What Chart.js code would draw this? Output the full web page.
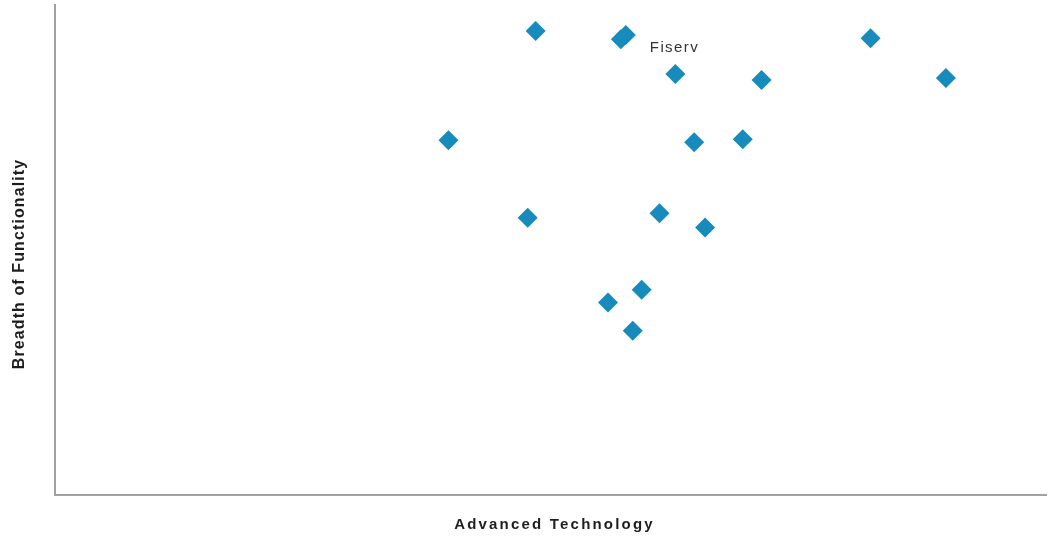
<!DOCTYPE html>
<html>
<head>
<meta charset="utf-8">
<script src="https://cdn.jsdelivr.net/npm/chart.js@4/dist/chart.umd.min.js"></script>
<style>
  html, body { margin: 0; padding: 0; background: #ffffff; }
  #wrap { width: 1048px; height: 539px; position: relative; }
</style>
</head>
<body>
<div id="wrap"><canvas id="chart"></canvas></div>
<script>
// Vendor positions: advanced technology (x) vs breadth of functionality (y), 0-100 scale
const techScores = [48.5, 57.1, 57.6, 82.3, 62.6, 71.3, 89.9, 39.7, 64.5, 69.4, 47.7, 61.0, 65.6, 59.2, 55.8, 58.3];
const functionScores = [94.7, 93.0, 93.9, 93.2, 85.9, 84.7, 85.1, 72.4, 72.0, 72.6, 56.6, 57.5, 54.6, 41.9, 39.3, 33.5];
const pointLabels = ['', '', 'Fiserv', '', '', '', '', '', '', '', '', '', '', '', '', ''];
const xAxisTitle = 'Advanced Technology';
const yAxisTitle = 'Breadth of Functionality';

const points = techScores.map((x, i) => ({ x: x, y: functionScores[i] }));

const FONT = '"Liberation Sans", Arial, sans-serif';

// Axis titles and point labels drawn on the canvas after the chart
const annotate = {
  id: 'annotate',
  afterDraw(chart) {
    const ctx = chart.ctx;
    const area = chart.chartArea;
    ctx.save();
    ctx.fillStyle = '#1e1e1e';
    ctx.textAlign = 'center';
    ctx.textBaseline = 'middle';

    ctx.font = 'bold 15px ' + FONT;
    ctx.letterSpacing = '2.2px';
    ctx.fillText(xAxisTitle, (area.left + area.right) / 2 + 4, 525);

    ctx.save();
    ctx.translate(20, 264);
    ctx.rotate(-Math.PI / 2);
    ctx.font = 'bold 16px ' + FONT;
    ctx.letterSpacing = '1.1px';
    ctx.fillText(yAxisTitle, 0, 0);
    ctx.restore();

    const meta = chart.getDatasetMeta(0);
    ctx.font = '15px ' + FONT;
    ctx.letterSpacing = '1.4px';
    ctx.fillStyle = '#333333';
    ctx.textAlign = 'left';
    pointLabels.forEach((txt, i) => {
      if (!txt) return;
      const el = meta.data[i];
      ctx.fillText(txt, el.x + 24, el.y + 13);
    });
    ctx.restore();
  }
};

new Chart(document.getElementById('chart'), {
  type: 'scatter',
  data: {
    datasets: [{
      data: points,
      pointStyle: 'rectRot',
      pointRadius: 10,
      pointHoverRadius: 10,
      backgroundColor: '#178bbb',
      borderColor: '#178bbb',
      borderWidth: 0
    }]
  },
  options: {
    responsive: true,
    maintainAspectRatio: false,
    animation: false,
    layout: { autoPadding: false, padding: { left: 55, right: 2, top: 5, bottom: 44 } },
    plugins: { legend: { display: false }, tooltip: { enabled: false } },
    scales: {
      x: {
        type: 'linear',
        min: 0,
        max: 100,
        ticks: { display: false },
        grid: { display: false, drawTicks: false },
        border: { display: true, color: '#a0a0a0', width: 2 }
      },
      y: {
        type: 'linear',
        min: 0,
        max: 100,
        ticks: { display: false },
        grid: { display: false, drawTicks: false },
        border: { display: true, color: '#a0a0a0', width: 2 }
      }
    }
  },
  plugins: [annotate]
});
</script>
</body>
</html>
